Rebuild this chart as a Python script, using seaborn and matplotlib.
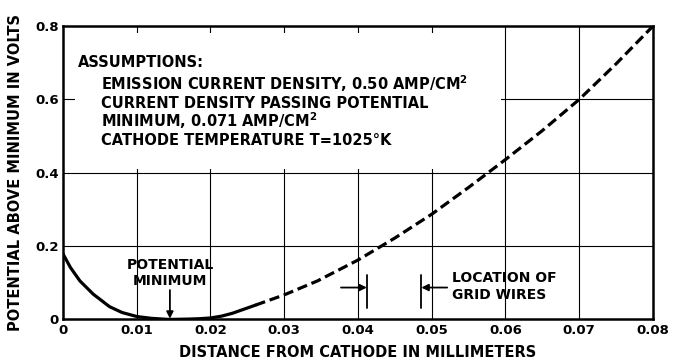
import matplotlib
matplotlib.use("Agg")
import matplotlib.pyplot as plt
import seaborn as sns
import pandas as pd
from matplotlib.patches import Rectangle

sns.set_theme(style="white")
plt.rcParams["font.family"] = ["DejaVu Sans"]
plt.rcParams["font.weight"] = "bold"
for key in ["text.color", "axes.labelcolor", "xtick.color", "ytick.color"]:
    plt.rcParams[key] = "black"

# Potential distribution between cathode and grid
distance_mm = [0.0, 0.001, 0.0023, 0.0041, 0.0063, 0.008, 0.01, 0.012, 0.0144, 0.017,
               0.0185, 0.02, 0.0215, 0.023, 0.0261, 0.03, 0.0345, 0.04, 0.045,
               0.05, 0.055, 0.06, 0.065, 0.07, 0.075, 0.08]
potential_v = [0.179, 0.142, 0.105, 0.069, 0.035, 0.019, 0.008, 0.003, 0.0, 0.001,
               0.002, 0.004, 0.009, 0.017, 0.039, 0.067, 0.105, 0.162, 0.222,
               0.287, 0.36, 0.436, 0.515, 0.60, 0.697, 0.80]
computed_until = 0.0261          # solid part, extrapolated beyond (dashed)

x_ticks = [0, 0.01, 0.02, 0.03, 0.04, 0.05, 0.06, 0.07, 0.08]
x_tick_labels = ["0", "0.01", "0.02", "0.03", "0.04", "0.05", "0.06", "0.07", "0.08"]
y_ticks = [0, 0.2, 0.4, 0.6, 0.8]
y_tick_labels = ["0", "0.2", "0.4", "0.6", "0.8"]

potential_minimum_x = 0.0145
grid_wire_x = [0.0412, 0.0486]

assumptions = [
    "EMISSION CURRENT DENSITY, 0.50 AMP/CM$^{\\mathbf{2}}$",
    "CURRENT DENSITY PASSING POTENTIAL",
    "MINIMUM, 0.071 AMP/CM$^{\\mathbf{2}}$",
    "CATHODE TEMPERATURE T=1025\u00b0K",
]

df = pd.DataFrame({"x": distance_mm, "y": potential_v})
solid = df[df.x <= computed_until]
dashed = df[df.x >= computed_until]

fig = plt.figure(figsize=(6.75, 3.63), dpi=100)
ax = fig.add_axes([0.0933, 0.12, 0.874, 0.808])

# grid lines
for xv in x_ticks[1:-1]:
    ax.axvline(xv, color="black", lw=0.8, zorder=1)
for yv in y_ticks[1:-1]:
    ax.axhline(yv, color="black", lw=0.8, zorder=1)

# white panel behind the assumptions text
ax.add_patch(Rectangle((0.0016, 0.41), 0.0578, 0.37, facecolor="white",
                       edgecolor="none", zorder=2))

sns.lineplot(data=solid, x="x", y="y", ax=ax, color="black", lw=2.3,
             zorder=4, estimator=None, sort=False)
sns.lineplot(data=dashed, x="x", y="y", ax=ax, color="black", lw=2.3,
             zorder=4, estimator=None, sort=False, dashes=False,
             linestyle=(0, (3.2, 1.5)))

ax.set_xlim(0, 0.08)
ax.set_ylim(0, 0.8)
ax.set_xticks(x_ticks)
ax.set_xticklabels(x_tick_labels)
ax.set_yticks(y_ticks)
ax.set_yticklabels(y_tick_labels)
ax.tick_params(length=0, labelsize=9.5, pad=3)
for lab in ax.get_xticklabels() + ax.get_yticklabels():
    lab.set_fontweight("bold")

for s in ax.spines.values():
    s.set_visible(True)
    s.set_color("black")
    s.set_linewidth(1.8)
    s.set_zorder(5)

ax.set_xlabel("DISTANCE FROM CATHODE IN MILLIMETERS", fontsize=10.5,
              fontweight="bold", labelpad=6)
ax.set_ylabel("POTENTIAL ABOVE MINIMUM IN VOLTS", fontsize=10.5,
              fontweight="bold", labelpad=9)

# assumptions text
ax.text(0.002, 0.702, "ASSUMPTIONS:", fontsize=10.5, fontweight="bold",
        va="center", ha="left", zorder=3)
for yy, line in zip([0.642, 0.588, 0.542, 0.487], assumptions):
    ax.text(0.0052, yy, line, fontsize=10.5, fontweight="bold", va="center",
            ha="left", zorder=3)

# potential minimum marker
ax.text(potential_minimum_x, 0.149, "POTENTIAL", fontsize=10, fontweight="bold",
        ha="center", va="center", zorder=3)
ax.text(potential_minimum_x, 0.105, "MINIMUM", fontsize=10, fontweight="bold",
        ha="center", va="center", zorder=3)
ax.annotate("", xy=(potential_minimum_x, 0.002), xytext=(potential_minimum_x, 0.08),
            arrowprops=dict(arrowstyle="-|>", color="black", lw=1.3,
                            mutation_scale=10, shrinkA=0, shrinkB=0), zorder=3)

# grid wire location markers
for xv in grid_wire_x:
    ax.plot([xv, xv], [0.03, 0.12], color="black", lw=1.3, zorder=3)
ax.annotate("", xy=(grid_wire_x[0], 0.087), xytext=(grid_wire_x[0] - 0.0035, 0.087),
            arrowprops=dict(arrowstyle="-|>", color="black", lw=1.3,
                            mutation_scale=10, shrinkA=0, shrinkB=0))
ax.annotate("", xy=(grid_wire_x[1], 0.087), xytext=(grid_wire_x[1] + 0.0035, 0.087),
            arrowprops=dict(arrowstyle="-|>", color="black", lw=1.3,
                            mutation_scale=10, shrinkA=0, shrinkB=0))
ax.text(0.0528, 0.112, "LOCATION OF", fontsize=10, fontweight="bold",
        ha="left", va="center")
ax.text(0.0528, 0.068, "GRID WIRES", fontsize=10, fontweight="bold",
        ha="left", va="center")

fig.savefig("out.png", dpi=100)
